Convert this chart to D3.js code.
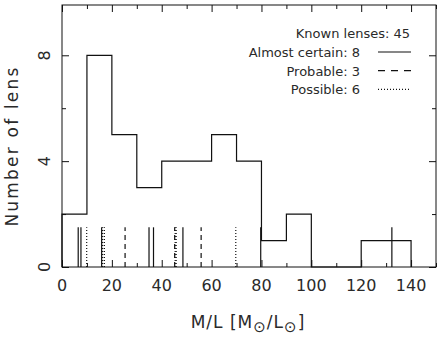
<!DOCTYPE html>
<html>
<head>
<meta charset="utf-8">
<script src="https://cdn.jsdelivr.net/npm/d3@7"></script>
<style>
  body { margin: 0; background: #fff; }
  svg { display: block; font-family: "DejaVu Sans", sans-serif; }
</style>
</head>
<body>
<script>
// histogram bins (M/L, width 10) and counts
const binEdges = [0, 10, 20, 30, 40, 50, 60, 70, 80, 90, 100, 110, 120, 130, 140];
const binCounts = [2, 8, 5, 3, 4, 4, 5, 4, 1, 2, 0, 0, 1, 1];

// individual lenses, by class
const almostCertain = [6.5, 7.6, 15.9, 34.9, 36.7, 48.5, 79.7, 132.3];
const probable = [25.3, 45.2, 55.8];
const possible = [9.9, 16.3, 17.0, 45.4, 45.8, 69.7];
const markHeight = 1.5;

const legendRows = [
  {label: "Almost certain: 8", dash: null},
  {label: "Probable: 3", dash: "7,6"},
  {label: "Possible: 6", dash: "1,2"}
];
const legendTitle = "Known lenses: 45";

const xMajor = [0, 20, 40, 60, 80, 100, 120, 140];
const xMinor = [10, 30, 50, 70, 90, 110, 130, 150];
const yMajor = [0, 4, 8];
const yMinor = [2, 6];

const width = 444, height = 346;
const margin = {top: 5, right: 8, bottom: 79, left: 62};

const svg = d3.select("body").append("svg")
  .attr("width", width)
  .attr("height", height);

const xScale = d3.scaleLinear().domain([0, 150]).range([margin.left, width - margin.right]);
const yScale = d3.scaleLinear().domain([0, 9.9]).range([height - margin.bottom, margin.top]);

const x0 = xScale.range()[0], x1 = xScale.range()[1];
const y0 = yScale.range()[0], y1 = yScale.range()[1];

// axes with inward ticks on all four sides
const axes = [
  [() => d3.axisBottom(xScale), `translate(0,${y0})`, xMajor, xMinor],
  [() => d3.axisTop(xScale), `translate(0,${y1})`, xMajor, xMinor],
  [() => d3.axisLeft(yScale), `translate(${x0},0)`, yMajor, yMinor],
  [() => d3.axisRight(yScale), `translate(${x1},0)`, yMajor, yMinor]
];
axes.forEach(([mk, tr, major, minor]) => {
  [[major, 7], [minor, 4]].forEach(([vals, size]) => {
    svg.append("g").attr("transform", tr)
      .call(mk().tickValues(vals).tickSize(-size).tickSizeOuter(0).tickFormat(""))
      .call(g => g.select(".domain").remove());
  });
});
svg.selectAll(".tick line").attr("stroke", "#111");

// frame
svg.append("rect")
  .attr("x", x0).attr("y", y1)
  .attr("width", x1 - x0).attr("height", y0 - y1)
  .attr("fill", "none").attr("stroke", "#111").attr("stroke-width", 1);

// x tick labels
svg.append("g").selectAll("text").data(xMajor).join("text")
  .attr("x", d => xScale(d))
  .attr("y", y0 + 24)
  .attr("text-anchor", "middle")
  .attr("font-size", 16)
  .attr("fill", "#2a2a2a")
  .text(d => d);

// y tick labels (rotated)
svg.append("g").selectAll("text").data(yMajor).join("text")
  .attr("transform", d => `translate(${x0 - 12},${yScale(d)}) rotate(-90)`)
  .attr("text-anchor", "middle")
  .attr("font-size", 16)
  .attr("fill", "#2a2a2a")
  .text(d => d);

// histogram outline
const steps = [[binEdges[0], 0]];
binCounts.forEach((c, i) => {
  steps.push([binEdges[i], c]);
  steps.push([binEdges[i + 1], c]);
});
steps.push([binEdges[binEdges.length - 1], 0]);
svg.append("path")
  .attr("d", d3.line().x(d => xScale(d[0])).y(d => yScale(d[1]))(steps))
  .attr("fill", "none")
  .attr("stroke", "#111")
  .attr("stroke-width", 1.2);

// lens marks
const markSets = [
  [almostCertain, null],
  [probable, "5,4"],
  [possible, "1,2"]
];
markSets.forEach(([vals, dash]) => {
  svg.append("g").selectAll("line").data(vals).join("line")
    .attr("x1", d => xScale(d)).attr("x2", d => xScale(d))
    .attr("y1", yScale(0)).attr("y2", yScale(markHeight))
    .attr("stroke", "#111")
    .attr("stroke-width", 1.2)
    .attr("stroke-dasharray", dash);
});

// legend
const lg = svg.append("g").attr("font-size", 13).attr("fill", "#2a2a2a");
lg.append("text")
  .attr("x", 410).attr("y", 38)
  .attr("text-anchor", "end")
  .text(legendTitle);
legendRows.forEach((r, i) => {
  const cy = 52 + i * 18.7;
  lg.append("text")
    .attr("x", 360).attr("y", cy + 5)
    .attr("text-anchor", "end")
    .text(r.label);
  lg.append("line")
    .attr("x1", 378).attr("x2", 411)
    .attr("y1", cy).attr("y2", cy)
    .attr("stroke", "#111")
    .attr("stroke-width", 1.2)
    .attr("stroke-dasharray", r.dash);
});

// axis titles
svg.append("text")
  .attr("transform", `translate(18,${(y0 + y1) / 2 + 10}) rotate(-90)`)
  .attr("text-anchor", "middle")
  .attr("font-size", 17)
  .attr("letter-spacing", 2.2)
  .attr("fill", "#2a2a2a")
  .text("Number of lens");

const xt = svg.append("text")
  .attr("x", 248).attr("y", 328)
  .attr("text-anchor", "middle")
  .attr("font-size", 17)
  .attr("letter-spacing", 1)
  .attr("fill", "#2a2a2a");
xt.append("tspan").text("M/L  [M");
xt.append("tspan").attr("font-size", 15).attr("dy", 4).text("⊙");
xt.append("tspan").attr("dy", -4).text("/L");
xt.append("tspan").attr("font-size", 15).attr("dy", 4).text("⊙");
xt.append("tspan").attr("dy", -4).text("]");
</script>
</body>
</html>
